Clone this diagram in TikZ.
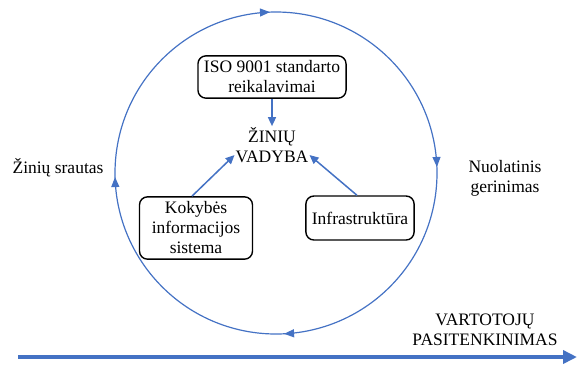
\documentclass[tikz,border=0pt]{standalone}
\usepackage{fontspec}
\setmainfont{Liberation Serif}
\usetikzlibrary{arrows.meta,decorations.markings}
\definecolor{ringblue}{RGB}{68,114,196}
\begin{document}
\begin{tikzpicture}[x=1pt,y=-1pt,
  font=\fontsize{17.5}{20}\selectfont,
  box/.style={draw,rounded corners=8pt,line width=1.4pt,align=center,inner xsep=6pt,inner ysep=5pt},
  link/.style={ringblue,line width=1.5pt,-{Triangle[length=9pt,width=8pt]}}]
\useasboundingbox (0,0) rectangle (577,368);
% ciklas aplink
\draw[ringblue,line width=1.2pt,postaction={decorate},
  decoration={markings,
    mark=at position 0.119 with {\arrow{Triangle[length=10pt,width=8pt]}},
    mark=at position 0.367 with {\arrow{Triangle[length=10pt,width=8pt]}},
    mark=at position 0.621 with {\arrow{Triangle[length=10pt,width=8pt]}},
    mark=at position 0.869 with {\arrow{Triangle[length=10pt,width=8pt]}}}]
  (276,173) ++(-45:161) arc[start angle=-45,end angle=315,radius=161];
% vidus
\node[box] (iso) at (272,77) {ISO 9001 standarto\\reikalavimai};
\node[align=center,inner sep=1pt] (zv) at (272,145) {ŽINIŲ\\VADYBA};
\node[box,minimum width=113pt] (kis) at (196,228) {Kokybės\\informacijos\\sistema};
\node[box,minimum height=44pt] (inf) at (360,218) {Infrastruktūra};
\draw[link] (iso) -- (zv);
\draw[link] ([xshift=-4pt]kis.north) -- (zv.195);
\draw[link] ([xshift=-3pt]inf.north) -- (zv.345);
% uzrasai
\node (srautas) at (58,168) {Žinių srautas};
\node[align=center] (gerinimas) at (505,178) {Nuolatinis\\gerinimas};
\node[align=center] (vartotoju) at (485,330) {VARTOTOJŲ\\PASITENKINIMAS};
\coordinate (start) at (18,357);
\coordinate (end) at (577,357);
\draw[ringblue,line width=4pt,-{Triangle[length=14pt,width=13pt]}] (start) -- (end);
\end{tikzpicture}
\end{document}
